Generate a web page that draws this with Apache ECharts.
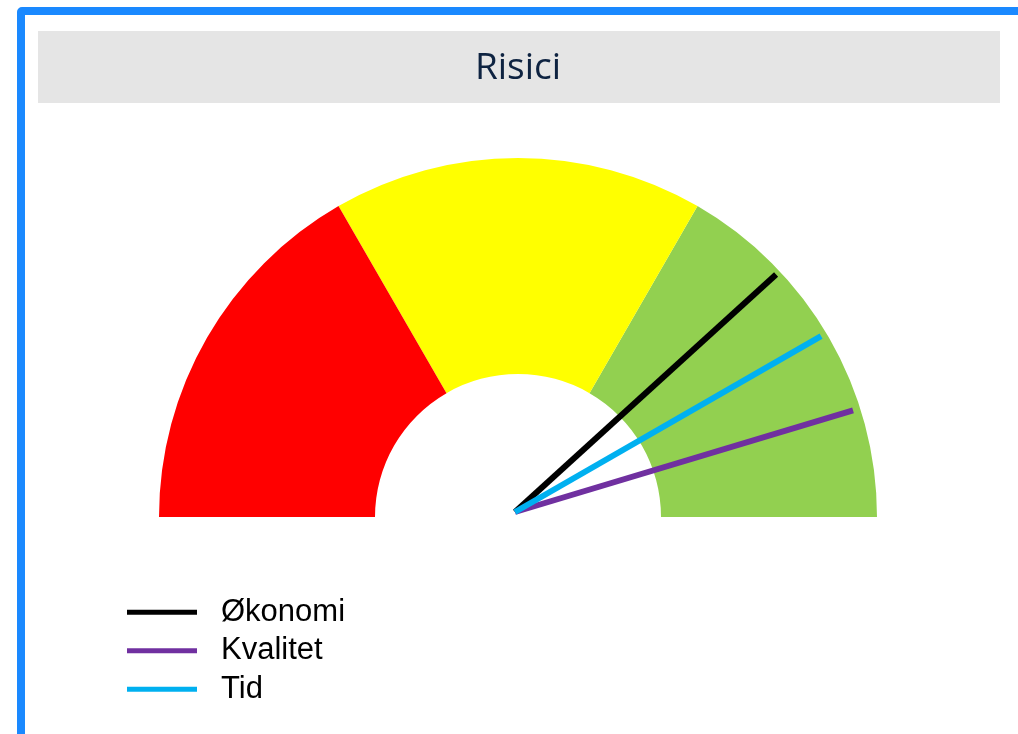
<!DOCTYPE html>
<html>
<head>
<meta charset="utf-8">
<title>Risici</title>
<script src="https://cdn.jsdelivr.net/npm/echarts@6/dist/echarts.min.js"></script>
<style>
  html, body { margin: 0; padding: 0; background: #fff; overflow: hidden; }
  #frame {
    position: absolute; left: 17px; top: 7px;
    width: 1100px; height: 800px;
    border: 8px solid #1a89ff; border-radius: 5px;
  }
  #gauge { position: absolute; left: 0; top: 0; width: 1018px; height: 734px; }
</style>
</head>
<body>
<div id="frame"></div>
<div id="gauge"></div>
<script>
// zoner: rød / gul / grøn (andel af skalaen)
var zoneStops = [1 / 3, 2 / 3, 1];
var zoneColors = ["#ff0000", "#ffff00", "#92d050"];
// visere
var names = ["Økonomi", "Kvalitet", "Tid"];
var values = [76.5, 90.7, 83.4];
var colors = ["#000000", "#7030a0", "#00b0f0"];

var myChart = echarts.init(document.getElementById("gauge"));

var hidden = {
  splitLine: { show: false },
  axisTick: { show: false },
  axisLabel: { show: false },
  detail: { show: false },
  title: { show: false },
  anchor: { show: false }
};

var series = [
  Object.assign({
    name: "zoner",
    type: "gauge",
    center: [518, 517],
    radius: 359,
    startAngle: 180,
    endAngle: 0,
    min: 0,
    max: 100,
    silent: true,
    axisLine: {
      lineStyle: {
        width: 216,
        color: zoneStops.map(function (s, i) { return [s, zoneColors[i]]; })
      }
    },
    pointer: { show: false },
    data: []
  }, hidden)
];

names.forEach(function (n, i) {
  series.push(Object.assign({
    name: n,
    type: "gauge",
    center: [515, 512],
    radius: 353,
    startAngle: 180,
    endAngle: 0,
    min: 0,
    max: 100,
    z: 3 + i,
    axisLine: { show: false },
    pointer: {
      icon: "rect",
      width: 6,
      length: "100%",
      offsetCenter: [0, 0]
    },
    itemStyle: { color: colors[i] },
    data: [{ value: values[i], name: n }]
  }, hidden));
});

var option = {
  animation: false,
  title: {
    text: "Risici",
    left: 513,
    top: 45,
    textAlign: "center",
    textStyle: {
      fontFamily: "Open Sans",
      fontWeight: 500,
      fontSize: 37,
      color: "#0e2341"
    }
  },
  graphic: [{
    type: "rect",
    shape: { x: 38, y: 31, width: 962, height: 72 },
    style: { fill: "#e5e5e5" },
    z: -1
  }],
  legend: {
    orient: "vertical",
    left: 122,
    top: 588,
    icon: "rect",
    itemWidth: 70,
    itemHeight: 5,
    itemGap: 0,
    selectedMode: false,
    data: names.map(function (n, i) {
      return { name: n, itemStyle: { color: colors[i] } };
    }),
    textStyle: {
      fontFamily: "Liberation Sans",
      fontSize: 31,
      lineHeight: 38.5,
      color: "#000",
      padding: [0, 0, 0, 19]
    }
  },
  series: series
};

myChart.setOption(option);
</script>
</body>
</html>
